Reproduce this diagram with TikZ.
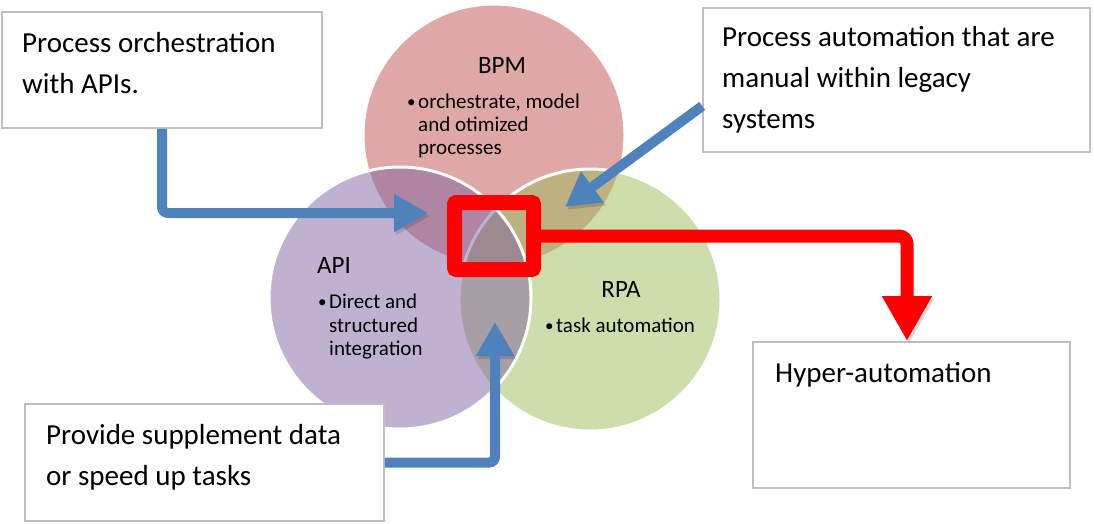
\documentclass[tikz,border=0pt]{standalone}
\usepackage{fontspec}
\setmainfont{Carlito}
\usetikzlibrary{arrows.meta}
\definecolor{bpmc}{HTML}{C0504D}
\definecolor{rpac}{HTML}{9BBB59}
\definecolor{apic}{HTML}{8064A2}
\definecolor{bluec}{HTML}{4F81BD}
\definecolor{redc}{HTML}{FF0000}
\definecolor{boxc}{HTML}{BFBFBF}
\begin{document}
\begin{tikzpicture}[x=1pt,y=-1pt,
  venn/.style={circle, minimum size=262pt, inner sep=0pt, draw=white, line width=3pt, fill opacity=0.5},
  box/.style={rectangle, draw=boxc, line width=1.5pt, fill=white, inner sep=0pt},
  boxtext/.style={anchor=base west, inner sep=0pt, font=\fontsize{29}{35}\selectfont},
  head/.style={anchor=base, inner sep=0pt, font=\fontsize{25}{30}\selectfont},
  bul/.style={anchor=base west, inner sep=0pt, font=\fontsize{21}{24}\selectfont},
  dot/.style={anchor=base west, inner sep=0pt, font=\fontsize{17}{20}\selectfont},
  arrowshadow/.style={preaction={draw=black, draw opacity=0.14, fill opacity=0.14, transform canvas={shift={(2pt,-3pt)}}}},
  bluearrow/.style={draw=bluec, line width=10pt, rounded corners=6pt, -{Triangle[length=34pt,width=36pt]}, arrowshadow},
  redarrow/.style={draw=redc, line width=13pt, rounded corners=8pt, -{Triangle[length=45pt,width=47pt]}, arrowshadow}]
\useasboundingbox (0,0) rectangle (1094,523);
% Venn circles
\node[venn, fill=bpmc] (bpm) at (494,135) {};
\node[venn, fill=rpac] (rpa) at (590,300) {};
\node[venn, fill=apic] (api) at (400,298) {};
% circle texts
\node[head] (bpmh) at (502,73) {BPM};
\node[dot] (bpmb) at (407,107) {\textbullet};
\node[bul] (bpm1) at (418,108) {orchestrate, model};
\node[bul] (bpm2) at (418,131) {and otimized};
\node[bul] (bpm3) at (418,154) {processes};
\node[head] (apih) at (334,273) {API};
\node[dot] (apib) at (318,307) {\textbullet};
\node[bul] (api1) at (329,308) {Direct and};
\node[bul] (api2) at (329,332) {structured};
\node[bul] (api3) at (329,355) {integration};
\node[head] (rpah) at (621,297) {RPA};
\node[dot] (rpab) at (545,331) {\textbullet};
\node[bul] (rpa1) at (556,332) {task automation};
% boxes
\node[box, minimum width=320pt, minimum height=116pt] (box1) at (162,70) {};
\node[box, minimum width=387pt, minimum height=144pt] (box2) at (896.5,80) {};
\node[box, minimum width=359pt, minimum height=117pt] (box3) at (204.5,462.5) {};
\node[box, minimum width=317pt, minimum height=146pt] (box4) at (911.5,415) {};
\node[boxtext] (t11) at (22,52) {Process orchestration};
\node[boxtext] (t12) at (22,93) {with APIs.};
\node[boxtext] (t21) at (722,46) {Process automation that are};
\node[boxtext] (t22) at (722,87) {manual within legacy};
\node[boxtext] (t23) at (722,128) {systems};
\node[boxtext] (t31) at (46,444) {Provide supplement data};
\node[boxtext] (t32) at (46,485) {or speed up tasks};
\node[boxtext] (t41) at (775,382) {Hyper-automation};
% red square
\node[rectangle, draw=redc, line width=15pt, minimum width=79pt, minimum height=67pt, inner sep=0pt, rounded corners=2pt] (sq) at (494,236) {};
% arrows
\coordinate (tip1) at (428,213);
\coordinate (tip2) at (565,207);
\coordinate (tip3) at (495,322);
\coordinate (tip4) at (907,341);
\draw[bluearrow] (box1.south) |- (tip1);
\draw[bluearrow] ([yshift=-26pt]box2.west) -- (tip2);
\draw[bluearrow] (box3.east) -| (tip3);
\draw[redarrow] (sq.east) -| (tip4);
\end{tikzpicture}
\end{document}
